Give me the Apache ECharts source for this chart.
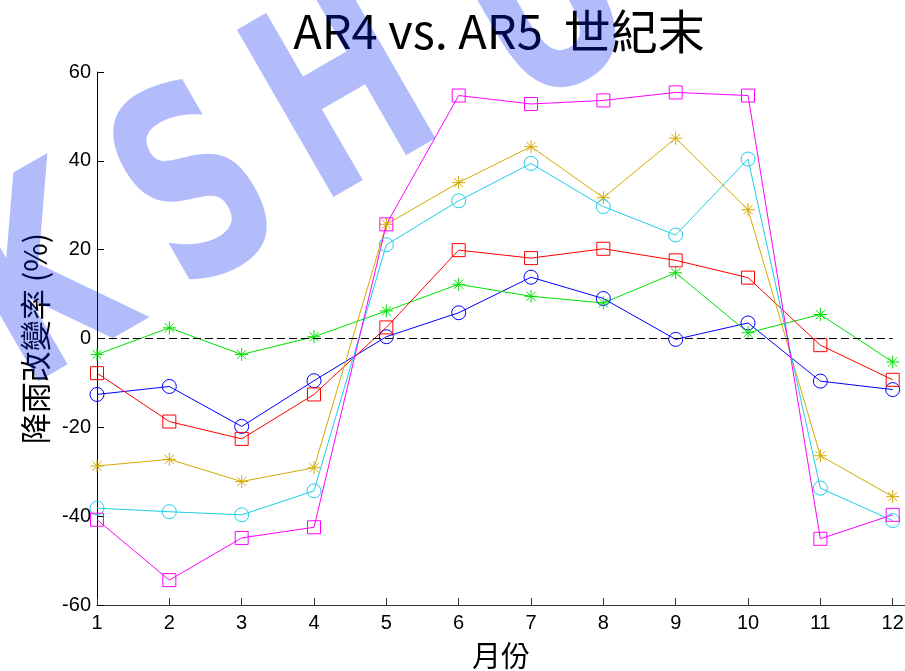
<!DOCTYPE html>
<html>
<head>
<meta charset="utf-8">
<script src="https://cdn.jsdelivr.net/npm/echarts@6/dist/echarts.min.js"></script>
<style>
  html, body { margin: 0; padding: 0; background: #fff; }
  #chart { width: 905px; height: 671px; }
</style>
</head>
<body>
<div id="chart"></div>
<script>
// 月份
const months = [1, 2, 3, 4, 5, 6, 7, 8, 9, 10, 11, 12];
// 各組降雨改變率 (%)
const blueCircle = [-12.6, -10.8, -19.8, -9.5, 0.4, 5.8, 13.8, 9.0, -0.2, 3.5, -9.6, -11.5];
const greenStar = [-3.6, 2.4, -3.6, 0.4, 6.2, 12.2, 9.5, 8.0, 14.8, 1.3, 5.4, -5.3];
const redSquare = [-7.8, -18.7, -22.6, -12.6, 2.5, 19.9, 18.1, 20.2, 17.6, 13.7, -1.5, -9.3];
const goldStar = [-28.7, -27.2, -32.2, -29.1, 25.7, 35.1, 43.2, 31.7, 45.1, 29.0, -26.4, -35.6];
const cyanCircle = [-38.2, -39.0, -39.7, -34.3, 21.1, 31.0, 39.4, 29.7, 23.3, 40.4, -33.7, -41.0];
const magentaSquare = [-40.8, -54.4, -44.9, -42.5, 25.7, 54.7, 52.8, 53.6, 55.4, 54.7, -45.1, -39.7];
const yTicks = [-60, -40, -20, 0, 20, 40, 60];
const watermark = ["K", "S", "H", "U"];

const SYM_STAR = "path://M5,0L5,10M0,5L10,5M1.5,1.5L8.5,8.5M8.5,1.5L1.5,8.5";
const SYM_SQUARE = "path://M0,0L10,0L10,10L0,10Z";

function makeSeries(name, values, color, symbol, size) {
  return {
    name: name,
    type: "line",
    data: values.map((v, i) => [months[i], v]),
    symbol: symbol,
    symbolSize: size,
    showAllSymbol: true,
    lineStyle: { color: color, width: 1 },
    itemStyle: {
      color: symbol === SYM_STAR ? color : "rgba(0,0,0,0)",
      borderColor: color,
      borderWidth: 1,
    },
    emphasis: { disabled: true },
    animation: false,
  };
}

const myChart = echarts.init(document.getElementById("chart"));

// 浮水印字母位置
const wmPos = [
  [50, 295],
  [204, 203],
  [350, 108],
  [552, 16],
];

const option = {
  backgroundColor: "#fff",
  title: {
    text: "AR4 vs. AR5  世紀末",
    left: 494,
    top: 3,
    textAlign: "center",
    textStyle: {
      fontFamily: "Noto Sans CJK TC",
      fontSize: 47,
      fontWeight: "normal",
      color: "#000",
    },
  },
  grid: {
    left: 97,
    right: 0,
    top: 72,
    bottom: 66,
    outerBoundsMode: "none",
    containLabel: false,
  },
  xAxis: {
    type: "value",
    min: 1,
    max: 12.17,
    interval: 1,
    name: "月份",
    nameLocation: "middle",
    nameGap: 36,
    nameTextStyle: {
      fontFamily: "Noto Sans CJK TC",
      fontSize: 29,
      color: "#000",
    },
    axisLine: { onZero: false, lineStyle: { color: "#333", width: 1 } },
    axisTick: { inside: true, length: 7, lineStyle: { color: "#333" } },
    axisLabel: {
      color: "#000",
      fontFamily: "Liberation Sans",
      fontSize: 20,
      margin: 8,
      formatter: (v) => (Number.isInteger(v) ? String(v) : ""),
    },
    splitLine: { show: false },
  },
  yAxis: {
    type: "value",
    min: yTicks[0],
    max: yTicks[yTicks.length - 1],
    interval: 20,
    name: "降雨改變率 (%)",
    nameLocation: "middle",
    nameRotate: 90,
    nameGap: 46,
    nameTextStyle: {
      fontFamily: "Noto Sans CJK TC",
      fontSize: 31,
      color: "#000",
    },
    axisLine: { show: true, onZero: false, lineStyle: { color: "#000", width: 1 } },
    axisTick: { show: true, inside: true, length: 7, lineStyle: { color: "#000" } },
    axisLabel: {
      color: "#000",
      fontFamily: "Liberation Sans",
      fontSize: 20,
      margin: 6,
    },
    splitLine: { show: false },
  },
  series: [
    Object.assign(makeSeries("blue", blueCircle, "#0000ff", "circle", 14), {
      markLine: {
        silent: true,
        symbol: ["none", "none"],
        label: { show: false },
        lineStyle: { color: "#000", type: [8, 4], width: 1 },
        data: [[{ coord: [1, 0] }, { coord: [12, 0] }]],
        animation: false,
      },
    }),
    makeSeries("green", greenStar, "#00e000", SYM_STAR, 13),
    makeSeries("red", redSquare, "#ff0000", SYM_SQUARE, 13),
    makeSeries("gold", goldStar, "#d4aa00", SYM_STAR, 13),
    makeSeries("cyan", cyanCircle, "#1ccfe8", "circle", 14),
    makeSeries("magenta", magentaSquare, "#ff00ff", SYM_SQUARE, 13),
  ],
  graphic: watermark.map((ch, i) => ({
    type: "text",
    x: wmPos[i][0],
    y: wmPos[i][1],
    rotation: (30 * Math.PI) / 180,
    scaleX: 0.68,
    z: 100,
    silent: true,
    style: {
      text: ch,
      fill: "rgba(0,32,238,0.3)",
      font: "bold 265px 'DejaVu Sans'",
      align: "center",
      verticalAlign: "middle",
    },
  })),
};

myChart.setOption(option);
</script>
</body>
</html>
